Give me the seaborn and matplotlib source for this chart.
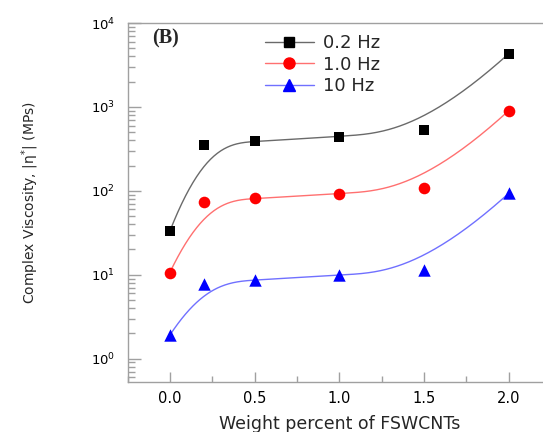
import numpy as np
import matplotlib
matplotlib.use("Agg")
import matplotlib.pyplot as plt
import seaborn as sns
import pandas as pd
from matplotlib.lines import Line2D
from matplotlib.ticker import LogLocator, MultipleLocator, NullFormatter

# ---- data ----
wt = [0.0, 0.2, 0.5, 1.0, 1.5, 2.0]
visc_02hz = [33, 350, 390, 440, 530, 4300]
visc_10hz = [10.6, 74, 81, 92, 108, 900]
visc_10Hz = [1.9, 7.8, 8.7, 9.8, 11.5, 93]
labels = ["0.2 Hz", "1.0 Hz", "10 Hz"]
xticks = [0.0, 0.5, 1.0, 1.5, 2.0]

series = [visc_02hz, visc_10hz, visc_10Hz]
mcolors = ["black", "red", "blue"]
lcolors = ["#6a6a6a", "#ff7070", "#7070ff"]
markers = ["s", "o", "^"]
msizes = [55, 70, 80]


def bspline(px, py, n=300, k=3):
    """Clamped cubic B-spline using the data points as control points."""
    P = np.column_stack([px, py])
    m = len(P)
    inner = np.linspace(0, 1, m - k + 1)[1:-1]
    t = np.concatenate([np.zeros(k + 1), inner, np.ones(k + 1)])
    u = np.linspace(0, 1, n)
    u[-1] = 1 - 1e-12

    def N(i, p, uu):
        if p == 0:
            return np.where((t[i] <= uu) & (uu < t[i + 1]), 1.0, 0.0)
        a = np.zeros_like(uu)
        b = np.zeros_like(uu)
        if t[i + p] != t[i]:
            a = (uu - t[i]) / (t[i + p] - t[i]) * N(i, p - 1, uu)
        if t[i + p + 1] != t[i + 1]:
            b = (t[i + p + 1] - uu) / (t[i + p + 1] - t[i + 1]) * N(i + 1, p - 1, uu)
        return a + b

    B = np.column_stack([N(i, k, u) for i in range(m)])
    C = B @ P
    return C[:, 0], C[:, 1]


sns.set_style("white")
plt.rcParams["font.family"] = ["DejaVu Sans"]
plt.rcParams["mathtext.fontset"] = "dejavusans"

fig = plt.figure(figsize=(5.43, 4.32), dpi=100)
W, H = 543, 432
left, right, top, bottom = 127.5, 551, 23, 381.7
ax = fig.add_axes([left / W, 1 - bottom / H, (right - left) / W, (bottom - top) / H])

handles = []
for vals, lab, mc, lc, mk, ms in zip(series, labels, mcolors, lcolors, markers, msizes):
    cx, cy = bspline(np.array(wt), np.log10(vals))
    curve = pd.DataFrame({"x": cx, "y": 10 ** cy})
    sns.lineplot(data=curve, x="x", y="y", sort=False, color=lc, lw=1.0, ax=ax, zorder=2)
    pts = pd.DataFrame({"x": wt, "y": vals})
    sns.scatterplot(data=pts, x="x", y="y", marker=mk, s=ms, color=mc,
                    edgecolor=mc, linewidth=0, ax=ax, zorder=3)
    handles.append(Line2D([], [], color=lc, lw=1.0, marker=mk, markersize=np.sqrt(ms) * 0.95,
                          markerfacecolor=mc, markeredgecolor=mc, label=lab))

ax.set_yscale("log")
ax.set_xlim(-0.25, 2.25)
ax.set_ylim(0.53, 1e4)

ax.set_xticks(xticks)
ax.set_xticklabels([f"{v:.1f}" for v in xticks])
ax.xaxis.set_minor_locator(MultipleLocator(0.25))
ax.yaxis.set_major_locator(LogLocator(base=10, numticks=10))
ax.yaxis.set_minor_locator(LogLocator(base=10, subs=np.arange(2, 10), numticks=20))
ax.yaxis.set_minor_formatter(NullFormatter())

spine_col = "#a0a0a0"
for s in ["left", "bottom", "top"]:
    ax.spines[s].set_color(spine_col)
    ax.spines[s].set_linewidth(1.0)
    ax.spines[s].set_visible(True)
ax.spines["right"].set_visible(False)

ax.tick_params(axis="x", which="major", direction="in", length=7, width=1,
               color=spine_col, labelsize=10.5, pad=7, labelcolor="black")
ax.tick_params(axis="x", which="minor", direction="in", length=4, width=1, color=spine_col)
ax.tick_params(axis="y", which="major", direction="in", length=9, width=1,
               color=spine_col, labelsize=9.5, pad=9, labelcolor="black")
ax.tick_params(axis="y", which="minor", direction="in", length=5, width=1, color=spine_col)
ax.tick_params(left=True, bottom=True, top=False, right=False)
ax.tick_params(which="minor", left=True, bottom=True, top=False, right=False)

ax.set_xlabel("Weight percent of FSWCNTs", fontsize=12.5, labelpad=6)
ax.set_ylabel("Complex Viscosity, |η$^{*}$| (MPs)", fontsize=10, labelpad=36)

ax.text(152 / W, 1 - 38 / H, "(B)", transform=fig.transFigure, fontsize=14.5,
        family="Liberation Serif", fontweight="bold", va="center", ha="left")

fig.legend(handles=handles, loc="upper left", bbox_to_anchor=(265 / W, 1 - 34 / H),
           frameon=False, fontsize=13, handlelength=2.7, handletextpad=0.5,
           labelspacing=0.2, borderpad=0, borderaxespad=0)

fig.savefig("out.png", dpi=100)
